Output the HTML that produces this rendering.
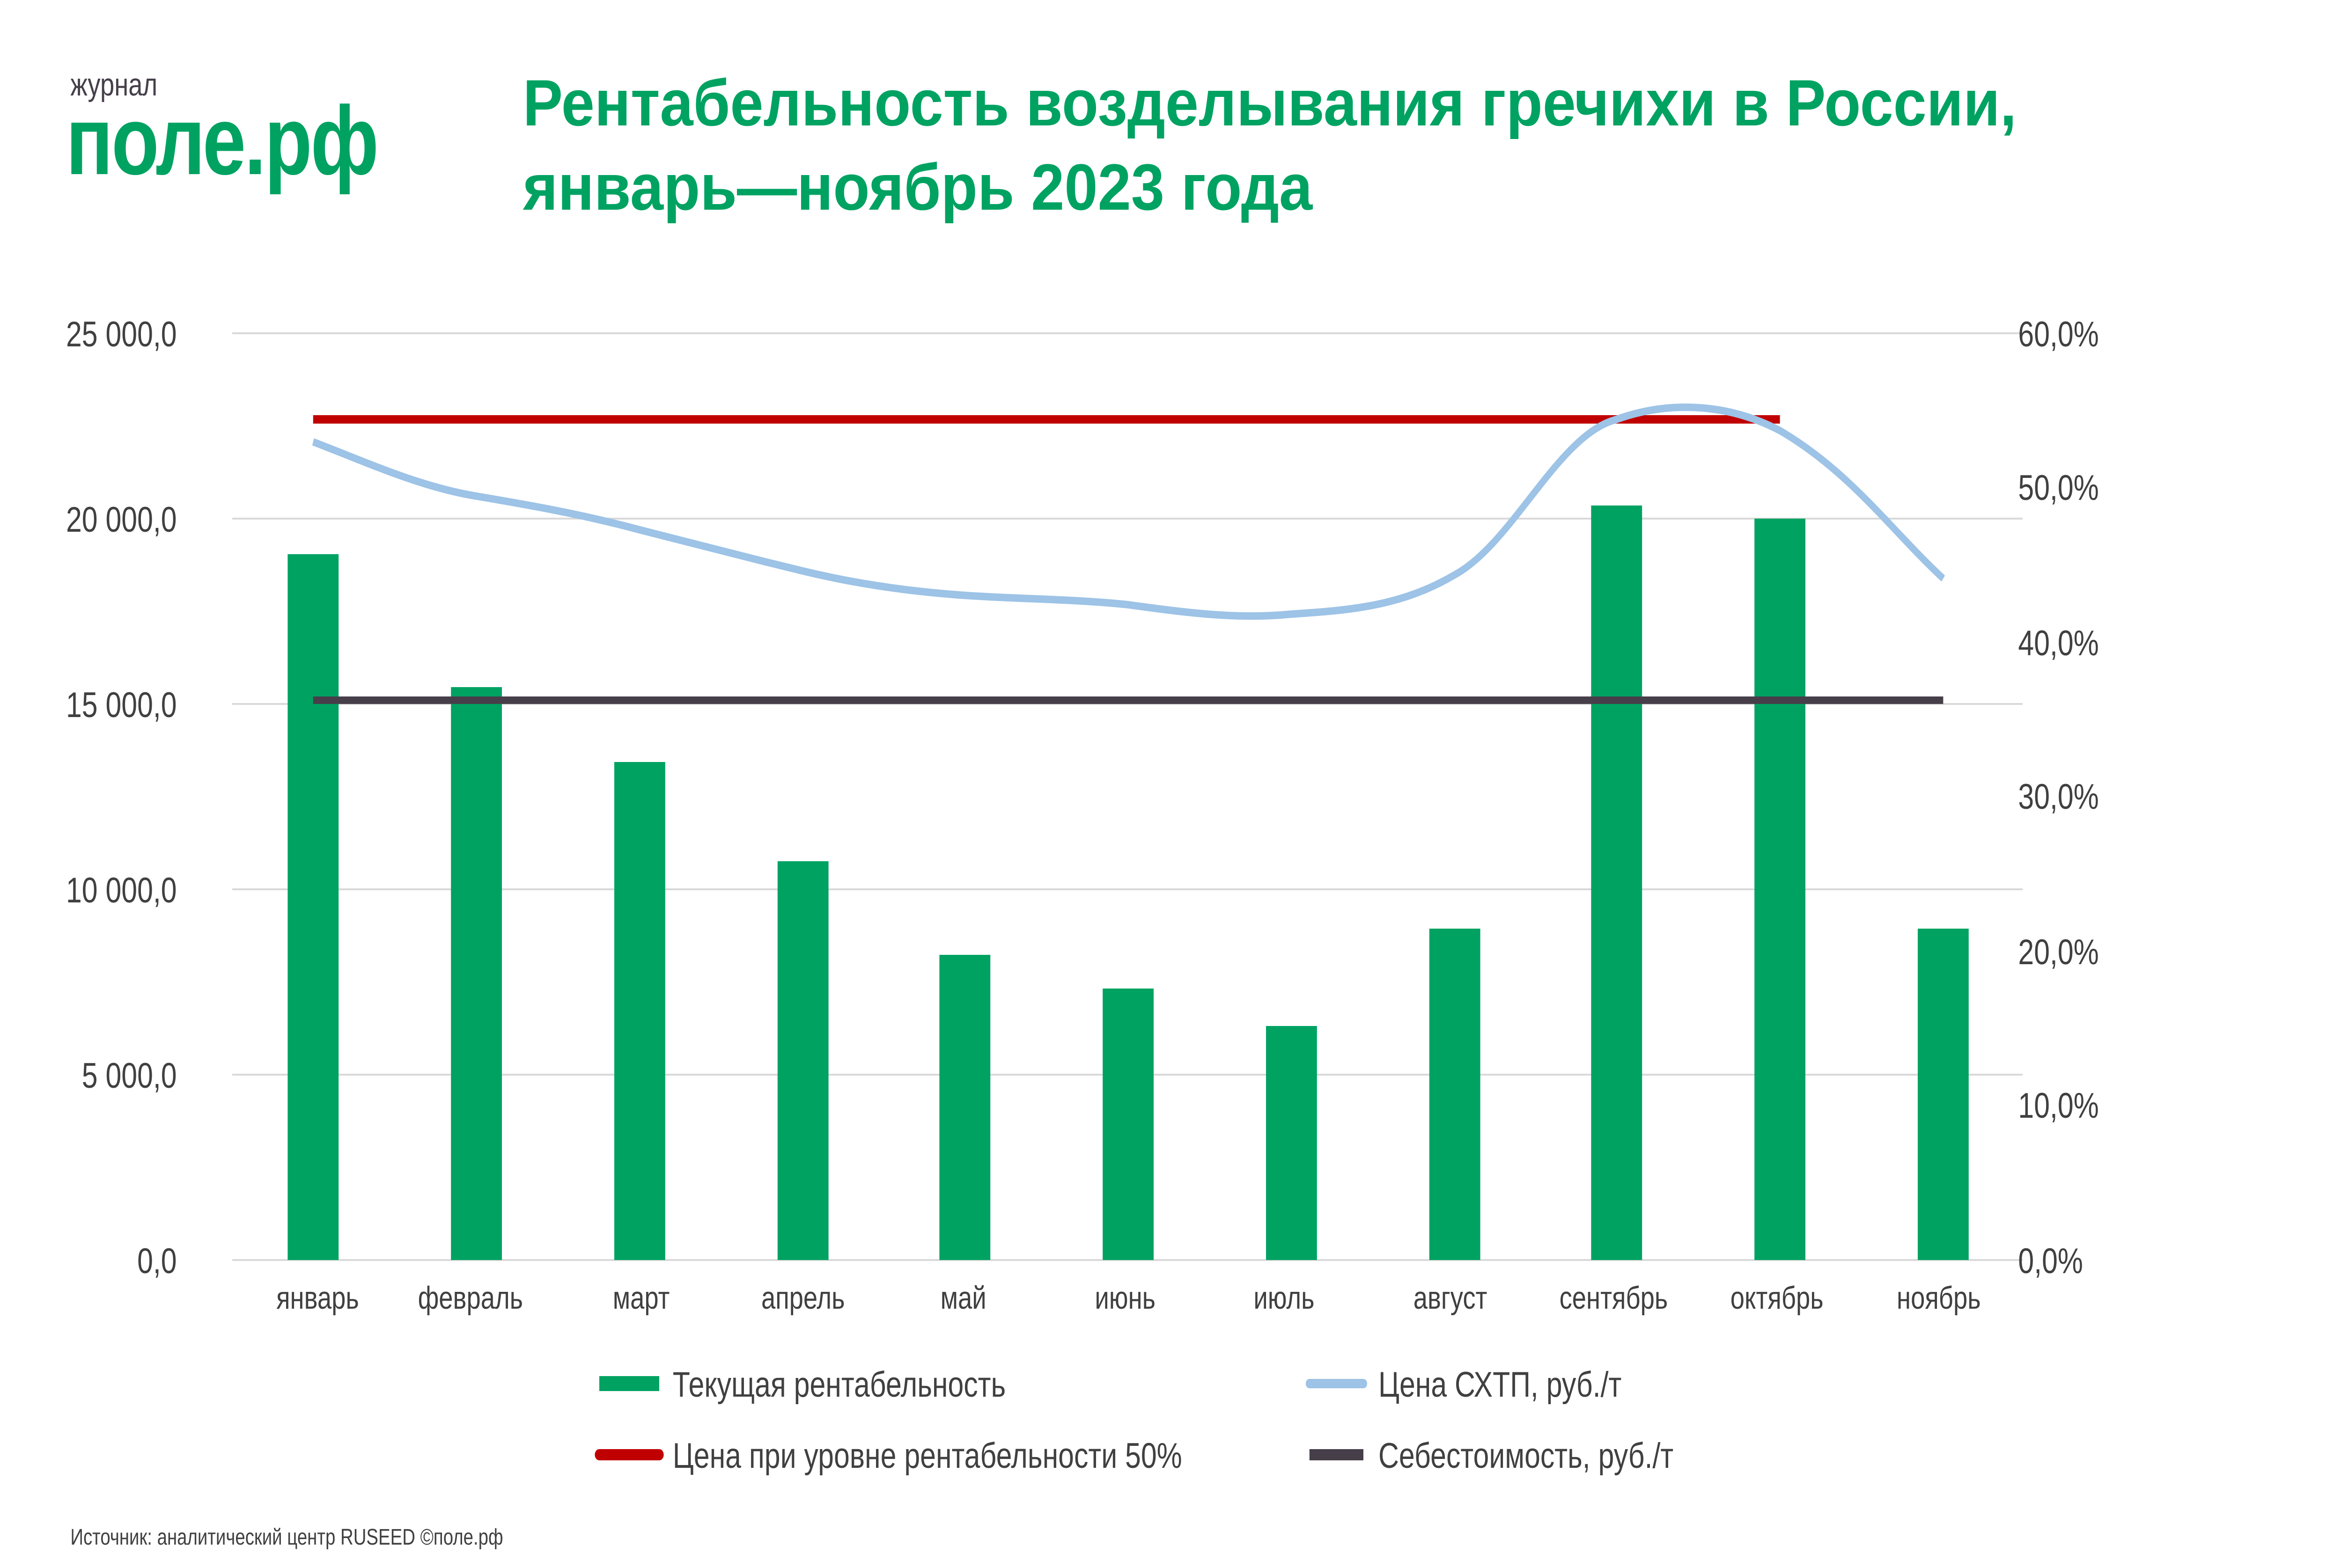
<!DOCTYPE html>
<html><head><meta charset="utf-8"><style>
html,body{margin:0;padding:0;background:#fff;overflow:hidden;width:100vw;height:100vh;}
svg{display:block;width:100vw;height:100vh;}
text{font-family:"Liberation Sans","DejaVu Sans",sans-serif;}
</style></head><body>
<svg viewBox="0 0 1562.5 837.5" preserveAspectRatio="none" xmlns="http://www.w3.org/2000/svg">
<rect width="1562.5" height="837.5" fill="#fff"/>
<!-- logo -->
<text x="47" y="51" font-size="17" fill="#463f4a">журнал</text>
<text x="44" y="93" font-size="52" font-weight="bold" fill="#00a262" letter-spacing="-1">поле.рф</text>
<!-- title -->
<text x="349" y="67" font-size="35" font-weight="bold" fill="#00a262" textLength="997" lengthAdjust="spacingAndGlyphs">Рентабельность возделывания гречихи в России,</text>
<text x="349" y="112" font-size="35" font-weight="bold" fill="#00a262" textLength="527" lengthAdjust="spacingAndGlyphs">январь—ноябрь 2023 года</text>
<!-- grid -->
<g stroke="#d9d9d9" stroke-width="1">
<line x1="155" x2="1350" y1="178" y2="178"/>
<line x1="155" x2="1350" y1="277" y2="277"/>
<line x1="155" x2="1350" y1="376" y2="376"/>
<line x1="155" x2="1350" y1="475" y2="475"/>
<line x1="155" x2="1350" y1="574" y2="574"/>
<line x1="155" x2="1350" y1="673" y2="673"/>
</g>
<g font-size="19" fill="#404040" text-anchor="end">
<text x="118" y="185">25 000,0</text>
<text x="118" y="284">20 000,0</text>
<text x="118" y="383">15 000,0</text>
<text x="118" y="482">10 000,0</text>
<text x="118" y="581">5 000,0</text>
<text x="118" y="680">0,0</text>
</g>
<g font-size="19" fill="#404040">
<text x="1347" y="185">60,0%</text>
<text x="1347" y="267">50,0%</text>
<text x="1347" y="350">40,0%</text>
<text x="1347" y="432">30,0%</text>
<text x="1347" y="515">20,0%</text>
<text x="1347" y="597">10,0%</text>
<text x="1347" y="680">0,0%</text>
</g>
<!-- bars -->
<g fill="#00a262">
<rect x="192" y="296" width="34" height="377"/>
<rect x="301" y="367" width="34" height="306"/>
<rect x="410" y="407" width="34" height="266"/>
<rect x="519" y="460" width="34" height="213"/>
<rect x="627" y="510" width="34" height="163"/>
<rect x="736" y="528" width="34" height="145"/>
<rect x="845" y="548" width="34" height="125"/>
<rect x="954" y="496" width="34" height="177"/>
<rect x="1062" y="270" width="34" height="403"/>
<rect x="1171" y="277" width="34" height="396"/>
<rect x="1280" y="496" width="34" height="177"/>
</g>
<!-- lines -->
<line x1="209" x2="1297" y1="374" y2="374" stroke="#463f4a" stroke-width="4"/>
<line x1="209" x2="1188" y1="224" y2="224" stroke="#c00000" stroke-width="4.5"/>
<path d="M209,236 C245,247 280,260 318,265 C355,270 390,275 427,283 C465,291 500,298 536,305 C572,312 608,316 644,318 C680,320 718,320 753,323 C790,327 825,331 862,328 C900,326 935,324 971,307 C1010,290 1040,232 1079,224 C1110,215 1150,214 1188,230 C1235,252 1262,283 1297,309" fill="none" stroke="#9dc3e6" stroke-width="4"/>
<!-- x labels -->
<g font-size="17" fill="#404040" text-anchor="middle">
<text x="212" y="699">январь</text>
<text x="314" y="699">февраль</text>
<text x="428" y="699">март</text>
<text x="536" y="699">апрель</text>
<text x="643" y="699">май</text>
<text x="751" y="699">июнь</text>
<text x="857" y="699">июль</text>
<text x="968" y="699">август</text>
<text x="1077" y="699">сентябрь</text>
<text x="1186" y="699">октябрь</text>
<text x="1294" y="699">ноябрь</text>
</g>
<!-- legend -->
<rect x="400" y="735" width="40" height="8" fill="#00a262"/>
<text x="449" y="746" font-size="19" fill="#404040">Текущая рентабельность</text>
<line x1="874" x2="910" y1="739" y2="739" stroke="#9dc3e6" stroke-width="5" stroke-linecap="round"/>
<text x="920" y="746" font-size="19" fill="#404040">Цена СХТП, руб./т</text>
<line x1="400" x2="440" y1="777" y2="777" stroke="#c00000" stroke-width="6" stroke-linecap="round"/>
<text x="449" y="784" font-size="19" fill="#404040">Цена при уровне рентабельности 50%</text>
<line x1="874" x2="910" y1="777" y2="777" stroke="#463f4a" stroke-width="6"/>
<text x="920" y="784" font-size="19" fill="#404040">Себестоимость, руб./т</text>
<!-- source -->
<text x="47" y="825" font-size="12" fill="#404040">Источник: аналитический центр RUSEED ©поле.рф</text>
</svg>
</body></html>
